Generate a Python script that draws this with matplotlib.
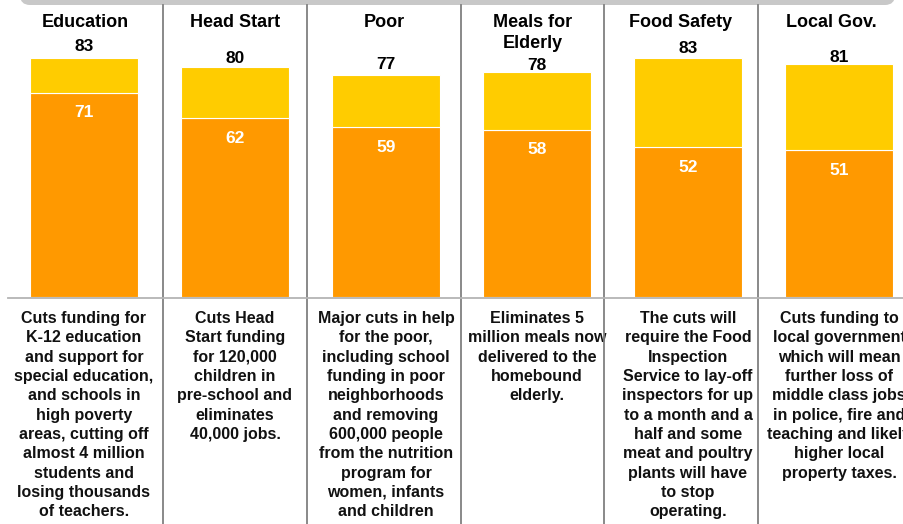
import numpy as np
import matplotlib.pyplot as plt
from matplotlib.patches import FancyBboxPatch
from matplotlib.transforms import blended_transform_factory

plt.rcParams['font.family'] = ['Liberation Sans', 'DejaVu Sans']

categories = ["Education", "Head Start", "Poor", "Meals for\nElderly", "Food Safety", "Local Gov."]
totals = [83, 80, 77, 78, 83, 81]
lower = [71, 62, 59, 58, 52, 51]
descriptions = [
    "Cuts funding for\nK-12 education\nand support for\nspecial education,\nand schools in\nhigh poverty\nareas, cutting off\nalmost 4 million\nstudents and\nlosing thousands\nof teachers.",
    "Cuts Head\nStart funding\nfor 120,000\nchildren in\npre-school and\neliminates\n40,000 jobs.",
    "Major cuts in help\nfor the poor,\nincluding school\nfunding in poor\nneighborhoods\nand removing\n600,000 people\nfrom the nutrition\nprogram for\nwomen, infants\nand children",
    "Eliminates 5\nmillion meals now\ndelivered to the\nhomebound\nelderly.",
    "The cuts will\nrequire the Food\nInspection\nService to lay-off\ninspectors for up\nto a month and a\nhalf and some\nmeat and poultry\nplants will have\nto stop\noperating.",
    "Cuts funding to\nlocal government\nwhich will mean\nfurther loss of\nmiddle class jobs\nin police, fire and\nteaching and likely\nhigher local\nproperty taxes.",
]

ORANGE = "#FF9900"
YELLOW = "#FFCC00"
W, H = 904, 524
label_gap = [7, 4, 6, 2, 5, 2]  # px between bar top and total label baseline

fig = plt.figure(figsize=(W / 100, H / 100), dpi=100)
ax = fig.add_axes([0, 0, 1, 1])
ax.axis('off')
x = np.arange(len(categories))
# pixel mapping: centres at 84 + 151*i, baseline at 297 px from top, 2.88 px per unit
ax.set_xlim(-84 / 151, (W - 84) / 151)
ax.set_ylim(-(H - 297) / 2.88, 297 / 2.88)

ax.bar(x, lower, width=0.71, color=ORANGE, edgecolor='white', linewidth=0.8)
ax.bar(x, np.array(totals) - np.array(lower), bottom=lower, width=0.71,
       color=YELLOW, edgecolor='white', linewidth=0.8)

def fy(px):
    return 1 - px / H

# column dividers (px), headers sit in the middle of each column
div_px = [163, 307, 461, 604, 758]
edges = [8] + div_px + [W]
col_mid = [(edges[k] + edges[k + 1]) / 2 / W for k in range(len(categories))]

tr = blended_transform_factory(ax.transData, fig.transFigure)
for i in x:
    ax.annotate(str(totals[i]), (i, totals[i]), xytext=(0, label_gap[i] * 0.72),
                textcoords='offset points', ha='center', va='baseline',
                fontsize=12.5, fontweight='bold', color='black')
    ax.annotate(str(lower[i]), (i, lower[i]), xytext=(0, -24.5 * 0.72),
                textcoords='offset points', ha='center', va='baseline',
                fontsize=12.5, fontweight='bold', color='white')
    fig.text(col_mid[i], fy(14), categories[i], ha='center', va='top',
             fontsize=13, fontweight='bold', linespacing=1.34)
    ax.text(i, fy(311), descriptions[i], transform=tr, ha='center', va='top',
            fontsize=11.5, fontweight='bold', linespacing=1.36, color='#111111')

for d in div_px:
    fig.add_artist(plt.Line2D([d / W, d / W], [0, fy(5)], color='#808080', lw=1.3))
# horizontal base line
fig.add_artist(plt.Line2D([8 / W, 1], [fy(298), fy(298)], color='#b4b4b4', lw=1.3))
# grey bar at top
top = FancyBboxPatch((20, H - 5), 875, 30, boxstyle="round,pad=0,rounding_size=10",
                     transform=None, facecolor='#c8c8c8', edgecolor='none')
fig.add_artist(top)

fig.savefig("out.png", dpi=100)
